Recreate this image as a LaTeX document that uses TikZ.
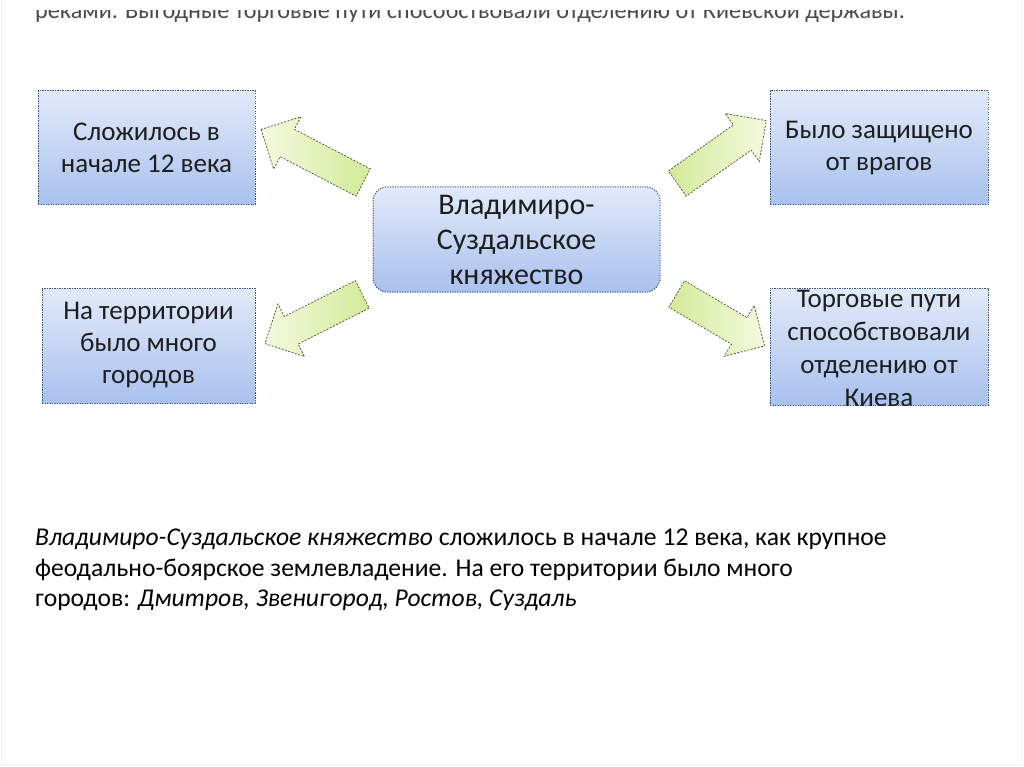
\documentclass[tikz,border=0pt]{standalone}
\usepackage{fontspec}
\setmainfont{Carlito}
\usetikzlibrary{shapes.arrows}
\definecolor{boxtop}{HTML}{E2EAF9}
\definecolor{boxbot}{HTML}{A9C1EE}
\definecolor{boxline}{HTML}{3A5680}
\definecolor{arrtop}{HTML}{F4FADF}
\definecolor{arrbot}{HTML}{D2EA98}
\definecolor{arrline}{HTML}{5A6040}
\definecolor{txt}{HTML}{1E1E1E}
\definecolor{toptxt}{HTML}{4A4A4A}
\definecolor{frame}{HTML}{F0F0F0}
\tikzset{
 infobox/.style={draw=boxline, line width=1pt, dash pattern=on 1.2pt off 1.3pt,
   top color=boxtop, bottom color=boxbot, inner sep=0pt, text=txt, align=center,
   font=\fontsize{27}{32}\selectfont},
 boxtext/.style={inner sep=0pt, text=txt, align=center, font=\fontsize{27}{33}\selectfont},
 bigarrow/.style={single arrow, draw=arrline, line width=0.8pt, dash pattern=on 2pt off 1.5pt,
   inner xsep=0pt, inner ysep=15pt, single arrow head extend=14pt},
 arrowleft/.style={bigarrow, left color=arrtop, right color=arrbot},
 arrowright/.style={bigarrow, left color=arrbot, right color=arrtop},
 para/.style={anchor=north west, inner sep=0pt, align=left, text=black,
   font=\fontsize{25.6}{30.5}\selectfont}
}
\begin{document}
\begin{tikzpicture}[x=1pt,y=-1pt]
\useasboundingbox (0,0) rectangle (1024,767);
\draw[frame, line width=1pt] (1.5,0) -- (1.5,764.5) -- (1021.5,764.5) -- (1021.5,0);
% clipped top line
\begin{scope}
\clip (0,11) rectangle (1024,30);
\node[anchor=base west, inner sep=0pt, text=toptxt, font=\fontsize{24.2}{28}\selectfont] (top) at (35,19)
 {реками. Выгодные торговые пути способствовали отделению от Киевской державы.};
\end{scope}
% boxes
\node[infobox, minimum width=217pt, minimum height=114pt] (tl) at (146.5,148) {Сложилось в\\начале 12 века};
\node[infobox, minimum width=218pt, minimum height=114pt] (tr) at (879,148) {Было защищено\\от врагов};
\node[infobox, minimum width=213pt, minimum height=115pt] (bl) at (148.5,345.5) {На территории\\было много\\городов};
\node[infobox, minimum width=218pt, minimum height=117pt] (br) at (879,346.5) {};
\begin{scope}
\clip (br.south west) rectangle (br.north east);
\node[boxtext] (brt) at (879,348) {Торговые пути\\способствовали\\отделению от\\Киева};
\end{scope}
\node[infobox, rounded corners=14pt, minimum width=287pt, minimum height=105pt,
  font=\fontsize{30}{35}\selectfont] (c) at (516.5,239.5) {Владимиро-\\Суздальское\\княжество};
% block arrows
\node[arrowleft, minimum height=115pt, rotate=152.5] (a1) at (319,159.5) {};
\node[arrowright, minimum height=109pt, rotate=35.3] (a2) at (715.5,156.5) {};
\node[arrowleft, minimum height=109pt, rotate=206.8] (a3) at (320.5,315.5) {};
\node[arrowright, minimum height=102pt, rotate=-30.6] (a4) at (714,316) {};
% paragraph
\node[para] (p) at (35,529) {\textit{Владимиро-Суздальское княжество} сложилось в начале 12 века, как крупное\\
феодально-боярское землевладение. На его территории было много\\
городов: \textit{Дмитров, Звенигород, Ростов, Суздаль}};
\end{tikzpicture}
\end{document}
